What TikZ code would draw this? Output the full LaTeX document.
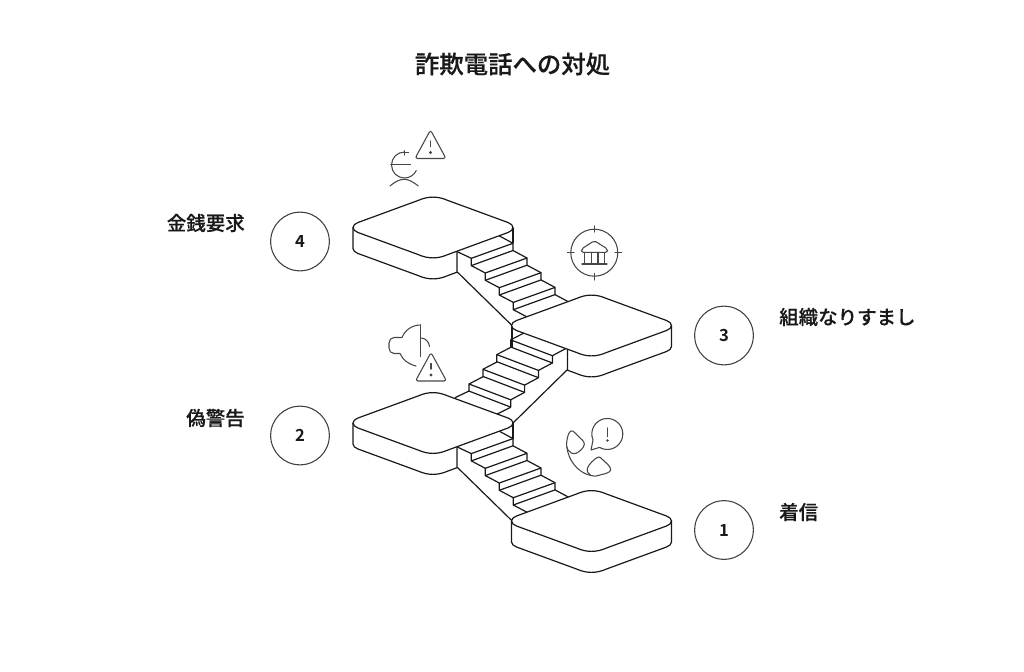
\documentclass[tikz,border=0pt]{standalone}
\usepackage{fontspec}
\setmainfont{Noto Sans CJK JP Medium}[FakeBold=0.4]
\newfontfamily\numfont{Noto Sans CJK JP Bold}
\tikzset{
    stroke/.style={line width=0.9pt, color=black!90, line join=round},
    icon/.style={line width=0.8pt, color=black!72, line join=round, line cap=round},
    numcircle/.style={draw, circle, line width=0.8pt, color=black!75, minimum size=44pt, inner sep=0pt, text=black!90, font=\numfont\fontsize{12.5}{14}\selectfont},
    jplabel/.style={inner sep=0pt, text=black!90, font=\fontsize{14.6}{17}\selectfont},
    jptitle/.style={inner sep=0pt, text=black!90, font=\fontsize{18.3}{22}\selectfont},
}
\newcommand{\platformtop}{(-80,0) .. controls (-80,-2.5) and (-78,-3.5) .. (-75,-5) -- (-15,-27) .. controls (-5,-31.5) and (5,-31.5) .. (15,-27) -- (75,-5) .. controls (78,-3.5) and (80,-2.5) .. (80,0) .. controls (80,2.5) and (78,3.5) .. (75,5) -- (15,27) .. controls (5,31.5) and (-5,31.5) .. (-15,27) -- (-75,5) .. controls (-78,3.5) and (-80,2.5) .. (-80,0) -- cycle}
\newcommand{\warnsign}[1]{
    \begin{scope}[shift={(#1)}]
    \draw[icon, rounded corners=2pt] (0,-1) -- (-15.5,27.5) -- (15.5,27.5) -- cycle;
    \draw[icon, line width=1pt] (0,10) -- (0,15.5);
    \fill[black!72] (0,21.5) circle [radius=1.7];
    \end{scope}
}
\begin{document}
\begin{tikzpicture}[x=0.75pt, y=-0.75pt]
    \useasboundingbox (0,0) rectangle (1024,671);
    \coordinate (plat4) at (433,227.5);
    \coordinate (plat3) at (591.5,325.5);
    \coordinate (plat2) at (433,423);
    \coordinate (plat1) at (591.5,521);

    \node[jptitle] (title) at (512.5,64) {詐欺電話への対処};

    % down stairs, left platform to right platform
    \foreach \sy in {0,195.3} {
    \begin{scope}[shift={(0,\sy)}]
    \draw[stroke] (457.3,251.7) -- (471.3,258.3);
    \draw[stroke] (499.3,235.9) -- (513,243.3);
    \foreach \i in {0,1,2,3} {
        \draw[stroke] ({471.3+14*\i},{258.3+14.7*\i}) -- ++(41.7,-15) -- ++(0,7.2) -- ++(-41.7,15.1) -- cycle;
        \draw[stroke] ({471.3+14*\i},{265.6+14.7*\i}) -- ++(14,7.4);
        \draw[stroke] ({513+14*\i},{250.5+14.7*\i}) -- ++(14,7.5);
    }
    \draw[stroke] (513,227.5) -- (513,243.3);
    \draw[stroke] (457.3,272) -- (512,325.5);
    \end{scope}
    }

    % up stairs, platform 2 to platform 3
    \draw[stroke] (455,397.7) -- (469,391);
    \draw[stroke] (496.7,414.3) -- (510.7,407.3);
    \foreach \i in {0,1,2,3} {
        \draw[stroke] ({469+13.9*\i},{384-14.7*\i}) -- ++(41.7,15.8) -- ++(0,7.3) -- ++(-41.7,-16) -- cycle;
        \draw[stroke] ({469+13.9*\i},{384-14.7*\i}) -- ++(14,-7.3);
        \draw[stroke] ({510.7+13.9*\i},{399.8-14.7*\i}) -- ++(14,-7.5);
    }
    \draw[stroke] (512,325.5) -- (512,347.5);
    \draw[stroke] (567,370) -- (513,423);

    % platforms
    \foreach \p in {plat4,plat3,plat2,plat1} {
        \draw[stroke, fill=white, shift={(\p)}] \platformtop;
    }
    \begin{scope}[shift={(plat4)}]
    \draw[stroke] (-80,0) -- (-80,21) .. controls (-80,23.5) and (-78,24.5) .. (-75,26) -- (-15,48) .. controls (-5,52.5) and (5,52.5) .. (15,48) -- (24,44.7) -- (24,23.7);
    \end{scope}
    \begin{scope}[shift={(plat2)}]
    \draw[stroke] (-80,0) -- (-80,21) .. controls (-80,23.5) and (-78,24.5) .. (-75,26) -- (-15,48) .. controls (-5,52.5) and (5,52.5) .. (15,48) -- (24,44.7) -- (24,23.7);
    \end{scope}
    \begin{scope}[shift={(plat3)}]
    \draw[stroke] (80,0) -- (80,21) .. controls (80,23.5) and (78,24.5) .. (75,26) -- (15,48) .. controls (5,52.5) and (-5,52.5) .. (-15,48) -- (-24,44.7) -- (-24,23.7);
    \end{scope}
    \begin{scope}[shift={(plat1)}]
    \draw[stroke] (-80,0) -- (-80,21) .. controls (-80,23.5) and (-78,24.5) .. (-75,26) -- (-15,48) .. controls (-5,52.5) and (5,52.5) .. (15,48) -- (75,26) .. controls (78,24.5) and (80,23.5) .. (80,21) -- (80,0);
    \end{scope}

    % number circles and labels
    \node[numcircle] (num4) at (300,241.5) {4};
    \node[numcircle] (num3) at (724,335.5) {3};
    \node[numcircle] (num2) at (300,435.5) {2};
    \node[numcircle] (num1) at (724,530) {1};
    \node[jplabel, anchor=east] (lab4) at (245,223) {金銭要求};
    \node[jplabel, anchor=west] (lab3) at (779,317) {組織なりすまし};
    \node[jplabel, anchor=east] (lab2) at (245,418) {偽警告};
    \node[jplabel, anchor=west] (lab1) at (779,512) {着信};

    % euro person icon
    \warnsign{430.5,131}
    \draw[icon] (404.5,152) arc [start angle=-90, end angle=-270, radius=13] arc [start angle=90, end angle=25, radius=13];
    \draw[icon] (390.7,164.3) -- (410.7,164.3);
    \draw[icon] (404.5,150.7) -- (404.5,155);
    \draw[icon] (401.5,152.5) -- (408.5,152.5);
    \draw[icon] (390,186) .. controls (396,181) and (400,179.3) .. (404,179.3) .. controls (408,179.3) and (412,181) .. (418.3,186);

    % bank icon
    \draw[icon] (594.3,252.7) circle [radius=23.5];
    \draw[icon] (594.3,226) -- (594.3,232);
    \draw[icon] (594.3,273.5) -- (594.3,280);
    \draw[icon] (567.5,252.7) -- (574,252.7);
    \draw[icon] (615,252.7) -- (621.5,252.7);
    \draw[icon, rounded corners=1.5pt] (594.3,240.7) -- (607.5,249) -- (607.5,252.3) -- (581.5,252.3) -- (581.5,249) -- cycle;
    \foreach \cx in {584.5,591.5,598,604.5} {
        \draw[icon] (\cx,252.3) -- (\cx,263.5);
    }
    \draw[icon] (582,264) -- (607,264);

    % speaker icon
    \warnsign{431,353.5}
    \draw[icon] (420.7,325) -- (420.7,356.5);
    \draw[icon] (420.7,325) .. controls (412,325) and (405,330) .. (402,337.5) -- (394,337.5) .. controls (391,337.5) and (389,340) .. (389,343) -- (389,348) .. controls (389,351) and (391,353.5) .. (394,353.5) -- (400,353.5) .. controls (403,360) and (408,364) .. (416,366);
    \draw[icon] (421.5,338) .. controls (426,338.5) and (429,342) .. (429.5,346.5);

    % phone icon
    \draw[icon] (599.55,447.4) arc [start angle=120, end angle=-203, radius=15.5] -- (591,450) -- cycle;
    \draw[icon, line width=1pt] (607.5,428) -- (607.5,436.5);
    \fill[black!72] (607.5,440.5) circle [radius=1.4];
    \draw[icon] plot [smooth cycle, tension=0.7] coordinates {(571,431) (578,436) (584.3,444.5) (576,453.3) (568,450) (567,440)};
    \draw[icon] plot [smooth cycle, tension=0.7] coordinates {(597,457.7) (603,460) (610.7,470) (600,475) (591,475.5) (587.5,468)};
    \draw[icon] (567,447) .. controls (568,460) and (578,473) .. (591,475.5);
\end{tikzpicture}
\end{document}
